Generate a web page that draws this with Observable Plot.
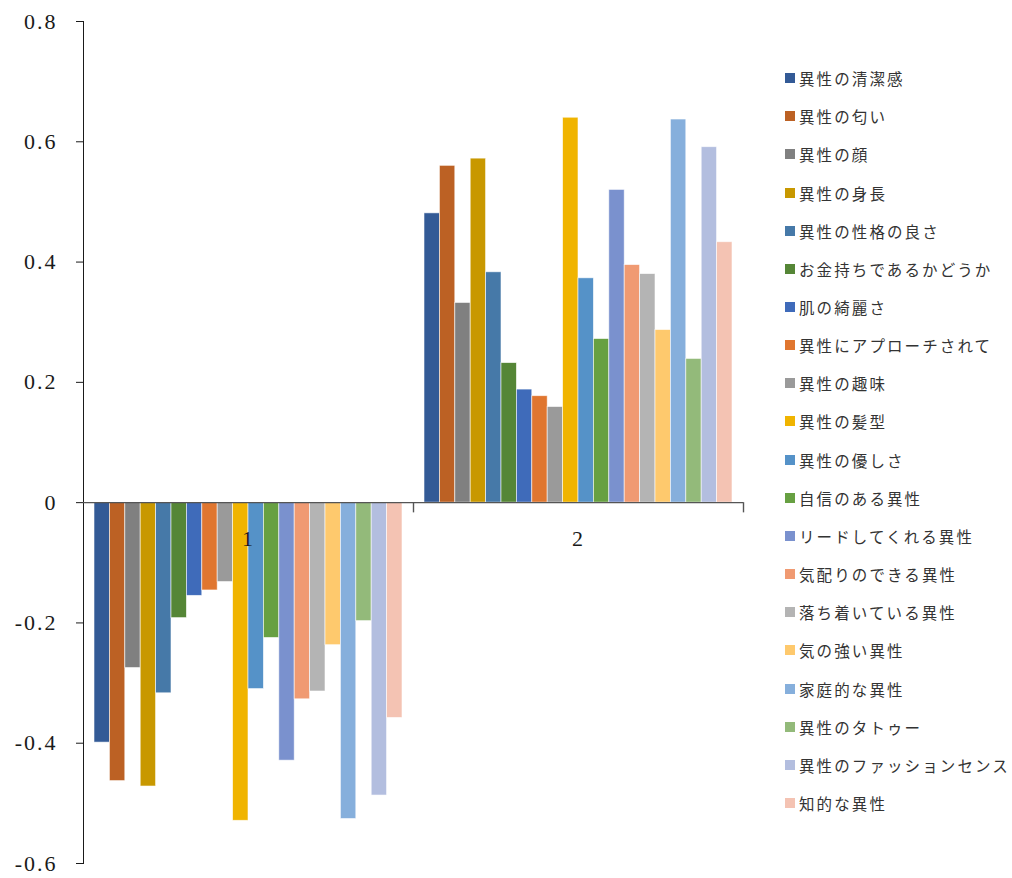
<!DOCTYPE html>
<html>
<head>
<meta charset="utf-8">
<script src="https://cdn.jsdelivr.net/npm/d3@7"></script>
<script src="https://cdn.jsdelivr.net/npm/@observablehq/plot@0.6"></script>
<style>
  html, body { margin: 0; padding: 0; background: #fff; }
  #wrap { position: relative; width: 1012px; height: 878px; overflow: hidden; }
  #chart { position: absolute; left: 0; top: 0; }
  #chart svg text { font-family: "Liberation Serif", "DejaVu Serif", serif !important; }
  #legend { position: absolute; left: 785px; top: 59px; font-family: "Noto Sans CJK JP", sans-serif; font-size: 15.5px; letter-spacing: 2.1px; color: #333; }
  .row { height: 38.16px; display: flex; align-items: center; white-space: nowrap; }
  .sw { width: 10px; height: 10px; margin-right: 4px; flex: none; }
</style>
</head>
<body>
<div id="wrap"><div id="chart"></div><div id="legend"></div></div>
<script>
const categories = ["1", "2"];
const series = [
  "異性の清潔感", "異性の匂い", "異性の顔", "異性の身長", "異性の性格の良さ",
  "お金持ちであるかどうか", "肌の綺麗さ", "異性にアプローチされて", "異性の趣味", "異性の髪型",
  "異性の優しさ", "自信のある異性", "リードしてくれる異性", "気配りのできる異性", "落ち着いている異性",
  "気の強い異性", "家庭的な異性", "異性のタトゥー", "異性のファッションセンス", "知的な異性"
];
const values1 = [-0.399, -0.463, -0.275, -0.472, -0.317, -0.192, -0.155, -0.146, -0.132, -0.529,
                 -0.310, -0.225, -0.429, -0.327, -0.314, -0.237, -0.526, -0.197, -0.487, -0.358];
const values2 = [0.481, 0.560, 0.332, 0.572, 0.383, 0.232, 0.188, 0.177, 0.159, 0.640,
                 0.373, 0.272, 0.520, 0.395, 0.380, 0.287, 0.637, 0.239, 0.591, 0.433];
const colors = ["#335A96", "#BC6124", "#808080", "#C89800", "#4679A8",
                "#558636", "#3F6BBA", "#E0762F", "#9A9A9A", "#F0B400",
                "#5592C8", "#67A042", "#7A91CE", "#F09A72", "#B4B4B4",
                "#FEC96D", "#86AFDC", "#93BA7A", "#B3BEDF", "#F4C3B3"];
const yTicks = [-0.6, -0.4, -0.2, 0, 0.2, 0.4, 0.6, 0.8];

const data = series.flatMap((s, i) => [
  {cat: "1", series: s, value: values1[i]},
  {cat: "2", series: s, value: values2[i]}
]);
const catRows = categories.map(c => ({cat: c, v: 0}));

const chart = Plot.plot({
  width: 760, height: 878,
  marginTop: 21, marginBottom: 15, marginLeft: 83, marginRight: 17,
  style: {fontFamily: "'Liberation Serif', 'DejaVu Serif', serif", fontSize: "22px", color: "#1a1a1a", background: "white", letterSpacing: "2px"},
  fx: {domain: categories, padding: 0, axis: null, round: false},
  x: {domain: series, padding: 0, insetLeft: 11, insetRight: 11, axis: null, round: false},
  y: {domain: [-0.6, 0.8], ticks: yTicks, tickFormat: d => d === 0 ? "0" : d.toFixed(1), tickSize: 7, tickPadding: 19, line: true, label: null},
  color: {domain: series, range: colors},
  marks: [
    Plot.barY(data, {fx: "cat", x: "series", y: "value", fill: "series", stroke: "white", strokeWidth: 0.8, strokeOpacity: 0.7, inset: 0}),
    Plot.ruleY([0], {stroke: "#555", strokeWidth: 1.4}),
    Plot.ruleX(catRows, {fx: "cat", x: null, y1: 0, y2: -0.017, dx: 165, stroke: "#555", strokeWidth: 1.4}),
    Plot.text(catRows, {fx: "cat", y: "v", text: "cat", dy: 36, fontSize: 22, fill: "#1a1a1a"})
  ]
});
document.getElementById("chart").appendChild(chart);

const legend = document.getElementById("legend");
series.forEach((s, i) => {
  const row = document.createElement("div");
  row.className = "row";
  const sw = document.createElement("span");
  sw.className = "sw";
  sw.style.background = colors[i];
  const t = document.createElement("span");
  t.textContent = s;
  row.appendChild(sw);
  row.appendChild(t);
  legend.appendChild(row);
});
</script>
</body>
</html>
